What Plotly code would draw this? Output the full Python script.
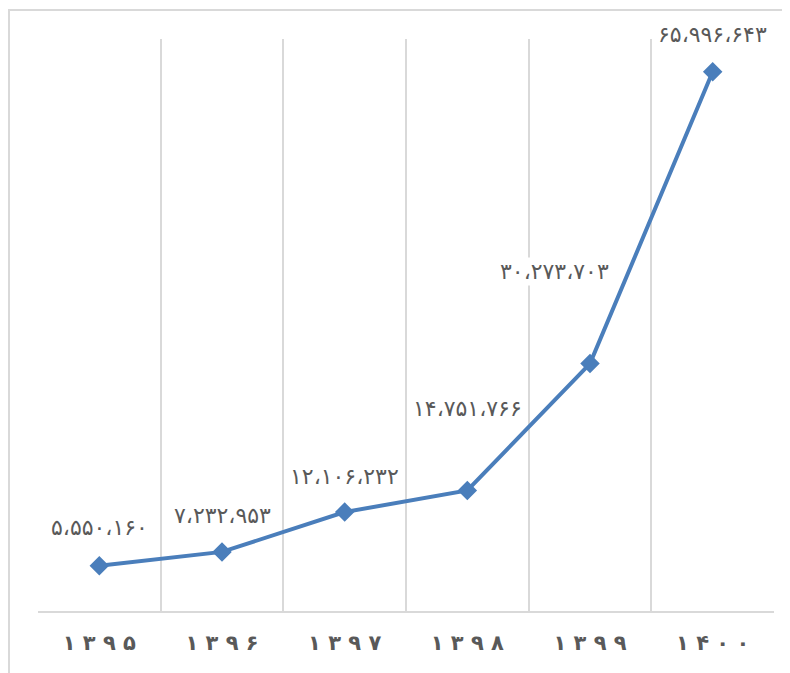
import plotly.graph_objects as go

years = ["۱۳۹۵", "۱۳۹۶", "۱۳۹۷", "۱۳۹۸", "۱۳۹۹", "۱۴۰۰"]
values = [5550160, 7232953, 12106232, 14751766, 30273703, 65996643]
value_labels = ["۵،۵۵۰،۱۶۰", "۷،۲۳۲،۹۵۳", "۱۲،۱۰۶،۲۳۲", "۱۴،۷۵۱،۷۶۶", "۳۰،۲۷۳،۷۰۳", "۶۵،۹۹۶،۶۴۳"]
label_dx = [0, 0, 0, 0, -36, 0]
label_dy = [38, 36, 36, 82, 92, 37]

fig = go.Figure()
fig.add_trace(go.Scatter(
    x=years, y=values, mode="lines+markers",
    line=dict(color="#4A7EBB", width=4),
    marker=dict(symbol="diamond", size=15, color="#4A7EBB"),
    cliponaxis=False, hoverinfo="skip",
))

for x, y, t, dx, dy in zip(years, values, value_labels, label_dx, label_dy):
    fig.add_annotation(x=x, y=y, text=t, showarrow=False, xshift=dx, yshift=dy,
                       font=dict(family="DejaVu Sans", size=22, color="#595959"),
                       bgcolor="white", borderpad=1)

fig.update_layout(
    width=782, height=665,
    margin=dict(l=30, r=16, t=31, b=62),
    paper_bgcolor="white", plot_bgcolor="white",
    showlegend=False,
    xaxis=dict(type="category", tickson="boundaries", showgrid=True,
               gridcolor="#D9D9D9", gridwidth=2, showline=True, linecolor="#D9D9D9",
               linewidth=2, ticks="", range=[-0.5, 5.5],
               tickmode="array", tickvals=years, ticktext=[" ".join(y) for y in years],
               ticklabelstandoff=12,
               tickfont=dict(family="DejaVu Sans", size=21, color="#595959", weight="bold"),
               zeroline=False),
    yaxis=dict(range=[0, 70000000], showgrid=False, showticklabels=False,
               zeroline=False, showline=False),
)

fig.add_shape(type="rect", xref="paper", yref="paper",
              x0=-0.0394, x1=1.04, y0=-0.13, y1=1.0507,
              line=dict(color="#D9D9D9", width=2), fillcolor="rgba(0,0,0,0)", layer="below")

fig.write_html("out.html")
